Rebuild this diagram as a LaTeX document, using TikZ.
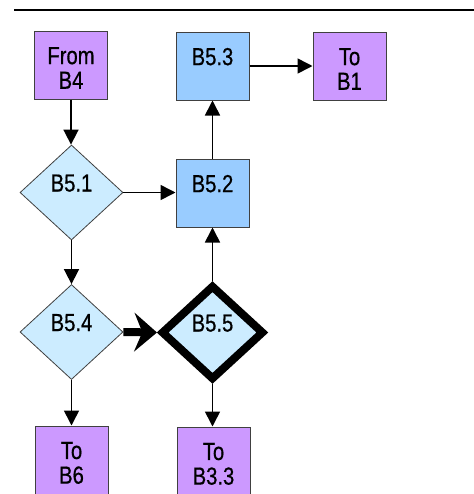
\documentclass[tikz,border=0pt]{standalone}
\usepackage{fontspec}
\setmainfont[FakeStretch=0.82,FakeBold=0.6]{Liberation Sans}
\usetikzlibrary{shapes.geometric,arrows.meta}
\definecolor{purp}{HTML}{CC99FF}
\definecolor{bluebox}{HTML}{99CCFF}
\definecolor{lightd}{HTML}{CCECFF}
\definecolor{edgec}{HTML}{404040}
\begin{document}
\begin{tikzpicture}[x=0.75pt,y=-0.75pt,
  font=\fontsize{18.5}{18.5}\selectfont,
  termbox/.style={draw=edgec,line width=0.75pt,fill=purp,minimum width=54.75pt,minimum height=51pt,inner sep=0pt},
  procbox/.style={draw=edgec,line width=0.75pt,fill=bluebox,minimum width=54.75pt,minimum height=51pt,inner sep=0pt},
  decis/.style={diamond,draw=edgec,line width=0.6pt,fill=lightd,minimum width=77.25pt,minimum height=71.25pt,inner sep=0pt},
  conn/.style={line width=1.2pt,-{Triangle[length=11.25pt,width=11.25pt]}},
  bigconn/.style={line width=6pt,-{Stealth[length=17pt,width=29pt,inset=6pt]}},
  lbl/.style={align=center,inner sep=0pt}
]
\useasboundingbox (0,0) rectangle (474,494);
\clip (0,0) rectangle (474,494);
\draw[line width=1.5pt] (14,9.5) -- (474,9.5);

\node[termbox] (fromb4) at (71,65) {};
\node[lbl] (tfromb4) at ([yshift=-2.2pt]fromb4.center) {From\\B4};
\node[procbox] (b53) at (212.5,66) {};
\node[lbl] (tb53) at ([yshift=7pt]b53.center) {B5.3};
\node[termbox] (tob1) at (349.5,66) {};
\node[lbl] (ttob1) at ([yshift=-2.2pt]tob1.center) {To\\B1};
\node[decis] (b51) at (71.5,192.5) {};
\node[lbl] (tb51) at ([yshift=7pt]b51.center) {B5.1};
\node[procbox] (b52) at (212.5,193) {};
\node[lbl] (tb52) at ([yshift=7pt]b52.center) {B5.2};
\node[decis] (b54) at (71.5,332) {};
\node[lbl] (tb54) at ([yshift=7pt]b54.center) {B5.4};
\node[decis,line width=6pt,draw=black] (b55) at (212.5,332.5) {};
\node[lbl] (tb55) at ([yshift=7pt]b55.center) {B5.5};
\node[termbox] (tob6) at (71.5,460) {};
\node[lbl] (ttob6) at ([yshift=-2.2pt]tob6.center) {To\\B6};
\node[termbox] (tob33) at (213.5,461) {};
\node[lbl] (ttob33) at ([yshift=-2.2pt]tob33.center) {To\\B3.3};

\draw[conn] (fromb4.south) -- (fromb4.south |- b51.north);
\draw[conn] (b51.east) -- (b52.west |- b51.east);
\draw[conn] (b52.north) -- (b53.south);
\draw[conn] (b53.east) -- (tob1.west |- b53.east);
\draw[conn] (b51.south) -- (b54.north);
\draw[conn] (b55.north) -- (b52.south);
\draw[conn] (b54.south) -- (b54.south |- tob6.north);
\draw[conn] (b55.south) -- (b55.south |- tob33.north);
\draw[bigconn] (b54.east) -- (b55.west);
\end{tikzpicture}
\end{document}
